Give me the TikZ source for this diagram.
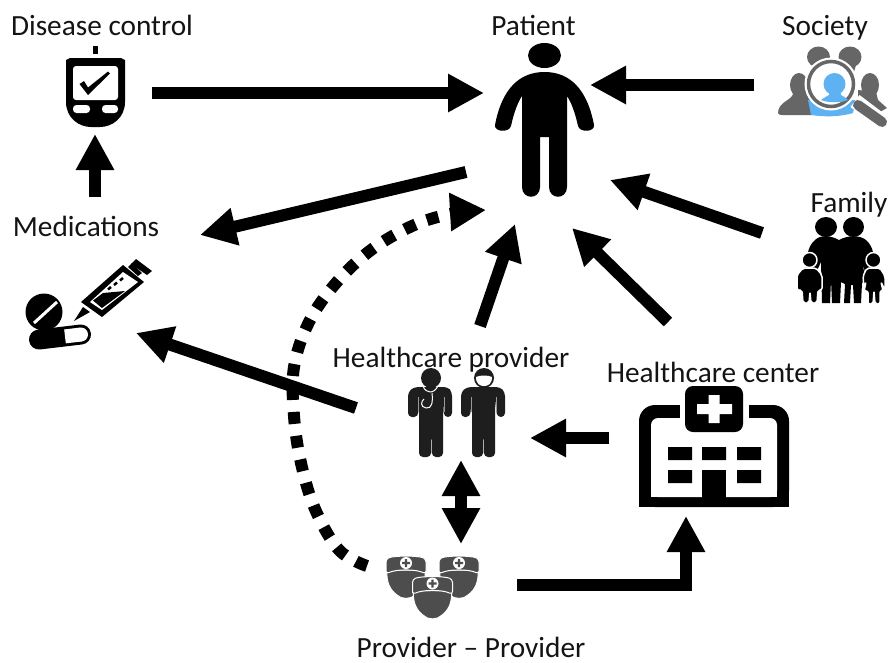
\documentclass[tikz,border=0pt]{standalone}
\usepackage{fontspec}
\setmainfont{Carlito}
\usetikzlibrary{arrows.meta}
\definecolor{grayA}{HTML}{666666}
\definecolor{nurseC}{HTML}{4D4D4D}
\definecolor{blueA}{HTML}{5FB2F2}
\definecolor{docC}{HTML}{1E1E1E}
\tikzset{
  x=1pt,y=-1pt,
  lab/.style={font=\fontsize{29.3}{32}\selectfont,anchor=base,inner sep=0pt,text=black!92},
  flow/.style={line width=12pt,draw=black,-{Triangle[length=36pt,width=36pt]}},
  twoway/.style={line width=12pt,draw=black,{Triangle[length=36pt,width=36pt]}-{Triangle[length=36pt,width=36pt]}},
  dotflow/.style={line width=12pt,draw=black,dash pattern=on 12pt off 12pt,-{Triangle[length=36pt,width=36pt]}},
  nurse/.pic={
    \fill[nurseC,draw=white,line width=1pt] (-19,4) .. controls (-20,16) and (-16,24) .. (-9,29) .. controls (-5,33.5) and (5,33.5) .. (9,29) .. controls (16,24) and (20,16) .. (19,4) -- cycle;
    \fill[nurseC,draw=white,line width=1pt,rounded corners=3pt] (-20,8) -- (-20,-7) .. controls (-12,-10.5) and (12,-10.5) .. (20,-7) -- (20,8) .. controls (10,3) and (-10,3) .. (-20,8) -- cycle;
    \fill[white] (0,-3) circle (6);
    \fill[nurseC] (-1.2,-7) rectangle (1.2,1) (-4,-4.2) rectangle (4,-1.8);
  }
}
\begin{document}
\begin{tikzpicture}
\useasboundingbox (0,0) rectangle (888,662);
\fill[white] (0,0) rectangle (888,662);

% ---- labels
\node[lab] (tDisease) at (102,35) {Disease control};
\node[lab] (tPatient) at (533.5,35) {Patient};
\node[lab] (tSociety) at (825,35) {Society};
\node[lab] (tFamily) at (849,212) {Family};
\node[lab] (tMeds) at (86,236) {Medications};
\node[lab] (tProvider) at (451,367) {Healthcare provider};
\node[lab] (tCenter) at (713,382) {Healthcare center};
\node[lab] (tPP) at (471,657) {Provider – Provider};

% ---- patient
\fill (544.5,55.5) ellipse [x radius=16.5pt,y radius=12.5pt];
\fill (544.5,72) .. controls (520,72) and (502,88) .. (495,125)
  .. controls (494,132) and (509,133) .. (511,126) .. controls (514,112) and (518,102) .. (522,96)
  -- (522,187) .. controls (522,200) and (540,200) .. (540,187) -- (540,137) -- (549,137) -- (549,187)
  .. controls (549,200) and (567,200) .. (567,187) -- (567,96)
  .. controls (571,102) and (575,112) .. (578,126) .. controls (580,133) and (595,132) .. (594,125)
  .. controls (587,88) and (569,72) .. (544.5,72) -- cycle;

% ---- glucose meter
\fill (92.5,46) rectangle (97.5,54);
\fill (66,60) -- (70,58) -- (121,58) -- (125,60) -- (125,102) .. controls (125,118) and (112,127) .. (100,127) -- (91,127) .. controls (79,127) and (66,118) .. (66,102) -- cycle;
\fill[white,rounded corners=3pt] (73,66) rectangle (118,100);
\fill (79.5,84) -- (84,81) -- (88,87.5) -- (108,71.5) -- (110,73.5) -- (88,95) -- cycle;
\fill[white,rounded corners=3.5pt] (73,105) rectangle (90,113) (102,105) rectangle (118,113);

% ---- medications
\fill (44,312) circle (18.5);
\draw[white,line width=3pt] (34,323) -- (57,302);
\draw[line width=20pt,line cap=round] (39,339.5) -- (81,334.5);
\draw[white,line width=14pt] (65,336.4) -- (81,334.5);
\fill[white] (81,334.5) circle (7);
\fill (81,302) -- (102,317) -- (144,282) -- (123,265) -- cycle;
\fill[white] (90,302) -- (102,310) -- (138,282) -- (123,272) -- cycle;
\fill (93,300.5) -- (102,308) -- (125,291) -- (103,293) -- cycle;
\draw[line width=2.5pt] (108,289.5) -- (111,287) (114,285) -- (117,282.5) (120,280.5) -- (123,278);
\fill (128,267) -- (132,263) -- (142,273) -- (138,276) -- cycle;
\fill (136,259) -- (152,271) -- (147,275) -- (131,264) -- cycle;
\fill (83,307) -- (90,312) -- (74,321) -- cycle;

% ---- society
\begin{scope}[grayA]
  \fill (818.5,57) ellipse [x radius=11.5pt,y radius=10.5pt];
  \fill (850,57) ellipse [x radius=11.5pt,y radius=10.5pt];
  \fill (811,62) -- (828,62) -- (832,75) -- (815,75) -- cycle;
  \fill (843,62) -- (857,62) -- (853,75) -- (835,75) -- cycle;
  \fill (799,85) ellipse [x radius=9pt,y radius=12pt];
  \fill (870,85) ellipse [x radius=9pt,y radius=12pt];
  \fill (793,94) .. controls (792,100) and (778,102) .. (778,113) .. controls (778,116) and (785,115) .. (812,115) -- (812,90) -- cycle;
  \fill (858,90) -- (876,92) -- (878,100) -- (887,108) -- (880,112) -- (858,105) -- cycle;
\end{scope}
\fill[blueA] (808,100) -- (856,100) -- (853,113) .. controls (840,117) and (824,117) .. (811,115) -- cycle;
\fill[white] (831,84) circle (26.5);
\draw[grayA,line width=3.5pt] (831,84) circle (22.5);
\draw[white,line width=15pt] (855,101) -- (888,126);
\draw[grayA,line width=10pt,line cap=round] (858,105) -- (882,122);
\fill[blueA] (834.5,84) ellipse [x radius=11pt,y radius=11pt];
\fill[blueA] (829,90) -- (840,90) -- (841,95) .. controls (845,97) and (847,99) .. (848,100) .. controls (840,103) and (829,103) .. (821,100) .. controls (823,98) and (826,97) .. (829,95) -- cycle;

% ---- family
\fill (826,227) ellipse [x radius=11pt,y radius=10pt];
\fill (853.5,227) ellipse [x radius=10.5pt,y radius=10pt];
\fill (839,240) .. controls (830,235) and (820,235) .. (815,240) .. controls (808,246) and (806,256) .. (805,275) -- (815,275) -- (821,262)
  -- (822,303) -- (830,303) -- (831,280) -- (832,303) -- (840,303) -- (841,282) -- (845,284) -- (844,303) -- (850,303) -- (851,285) -- (853,285) -- (854,303) -- (861,303) -- (862,283) -- (866,280) -- (862,262) -- (866,275) -- (876,275) .. controls (875,256) and (873,246) .. (866,240) .. controls (860,235) and (848,235) .. (839,240) -- cycle;
\begin{scope}[draw=white,line width=1.5pt,fill=black,line join=round]
  \filldraw (809.5,260) circle (7.5);
  \filldraw[rounded corners=2pt] (803,268) -- (816,268) -- (822,275) -- (822,290) -- (818,290) -- (817,303) -- (811,303) -- (810,292) -- (809,303) -- (803,303) -- (802,290) -- (797,290) -- (797,275) -- cycle;
  \filldraw (873.5,260) circle (7.5);
  \filldraw[rounded corners=2pt] (867,268) -- (880,268) -- (885,276) -- (885,290) -- (881,282) -- (883,291) -- (880,291) -- (880,304) -- (875,304) -- (874,291) -- (873,304) -- (868,304) -- (868,291) -- (864,291) -- (866,282) -- (864,288) -- (863,276) -- cycle;
\end{scope}

% ---- healthcare providers
\begin{scope}[docC]
  \fill (431,378) circle (10);
  \fill[rounded corners=4pt] (414,387) -- (448,387) -- (452,392) -- (452,417) -- (444,417) -- (443,397) -- (443,457) -- (432,457) -- (431.5,422) -- (431,457) -- (419,457) -- (419,397) -- (418,417) -- (408,417) -- (408,392) -- cycle;
  \fill (484,378) circle (10);
  \fill[rounded corners=4pt] (467,387) -- (500,387) -- (505,392) -- (505,417) -- (497,417) -- (495,397) -- (495,457) -- (484,457) -- (483.5,422) -- (483,457) -- (472,457) -- (472,397) -- (470,417) -- (461,417) -- (461,392) -- cycle;
\end{scope}
\draw[white,line width=1pt] (423,386) .. controls (426,394) and (434,394) .. (438,386);
\draw[white,line width=1pt] (432,393) .. controls (433,402) and (432,409) .. (426,408) .. controls (420,407) and (421,401) .. (424,399);
\fill[white] (476,377) .. controls (480,375) and (488,375) .. (492,377) .. controls (492,384) and (488,386) .. (484,386) .. controls (480,386) and (476,384) .. (476,377) -- cycle;
\draw[black!40,line width=.8pt] (418,397) -- (418,412) (444,397) -- (444,412) (471,397) -- (471,412) (496,397) -- (496,412);

% ---- nurses
\pic at (406,566) {nurse};
\pic at (459,566) {nurse};
\pic at (432.5,586.5) {nurse};

% ---- hospital
\fill[rounded corners=16pt] (639,507) -- (639,405) -- (789,405) -- (789,507) -- cycle;
\fill (639,480) rectangle (789,507);
\fill[white,rounded corners=7pt] (651,497) -- (651,418) -- (777,418) -- (777,497) -- cycle;
\fill[white] (651,480) rectangle (777,497);
\fill[white] (680,400) rectangle (749,418);
\fill[rounded corners=8pt] (685,386) rectangle (743,432);
\fill[white] (708.5,395) rectangle (719.5,423) (697,404) rectangle (732,414);
\fill (668,447) rectangle (692,460) (702,447) rectangle (726,460) (737,447) rectangle (761,460);
\fill (668,470) rectangle (692,483) (737,470) rectangle (761,483);
\fill (702,470) rectangle (726,500);

% ---- connector ends
\coordinate (meterOut) at (152,93);
\coordinate (patIn1) at (484,93);
\coordinate (medsOut) at (95,197);
\coordinate (meterIn) at (95,134);
\coordinate (socOut) at (754,85);
\coordinate (patIn2) at (590,85);
\coordinate (patOut) at (466,172);
\coordinate (medsIn1) at (200,235);
\coordinate (famOut) at (762,233);
\coordinate (patIn3) at (610,180);
\coordinate (cenOut1) at (668,322);
\coordinate (patIn4) at (572,228);
\coordinate (provOut1) at (480,326);
\coordinate (patIn5) at (515,224);
\coordinate (provOut2) at (356,408);
\coordinate (medsIn2) at (136,333);
\coordinate (cenOut2) at (609,438);
\coordinate (provIn) at (530,438);
\coordinate (provEnd) at (461,460);
\coordinate (nurseEnd) at (461,544);
\coordinate (nurseOut) at (517,585);
\coordinate (cenIn) at (686,516);
\coordinate (nurseDot) at (367,566);
\coordinate (patIn6) at (486,210);

% ---- connectors
\draw[flow] (meterOut) -- (patIn1);
\draw[flow] (medsOut) -- (meterIn);
\draw[flow] (socOut) -- (patIn2);
\draw[flow] (patOut) -- (medsIn1);
\draw[flow] (famOut) -- (patIn3);
\draw[flow] (cenOut1) -- (patIn4);
\draw[flow] (provOut1) -- (patIn5);
\draw[flow] (provOut2) -- (medsIn2);
\draw[flow] (cenOut2) -- (provIn);
\draw[twoway] (provEnd) -- (nurseEnd);
\draw[flow] (nurseOut) -| (cenIn);
\draw[dotflow] plot[smooth,tension=0.6] coordinates {(nurseDot) (339,550) (315,509) (301,463) (294,416) (294,367) (309,322) (336,283) (371,250) (412,226) (450,214) (patIn6)};
\end{tikzpicture}
\end{document}
